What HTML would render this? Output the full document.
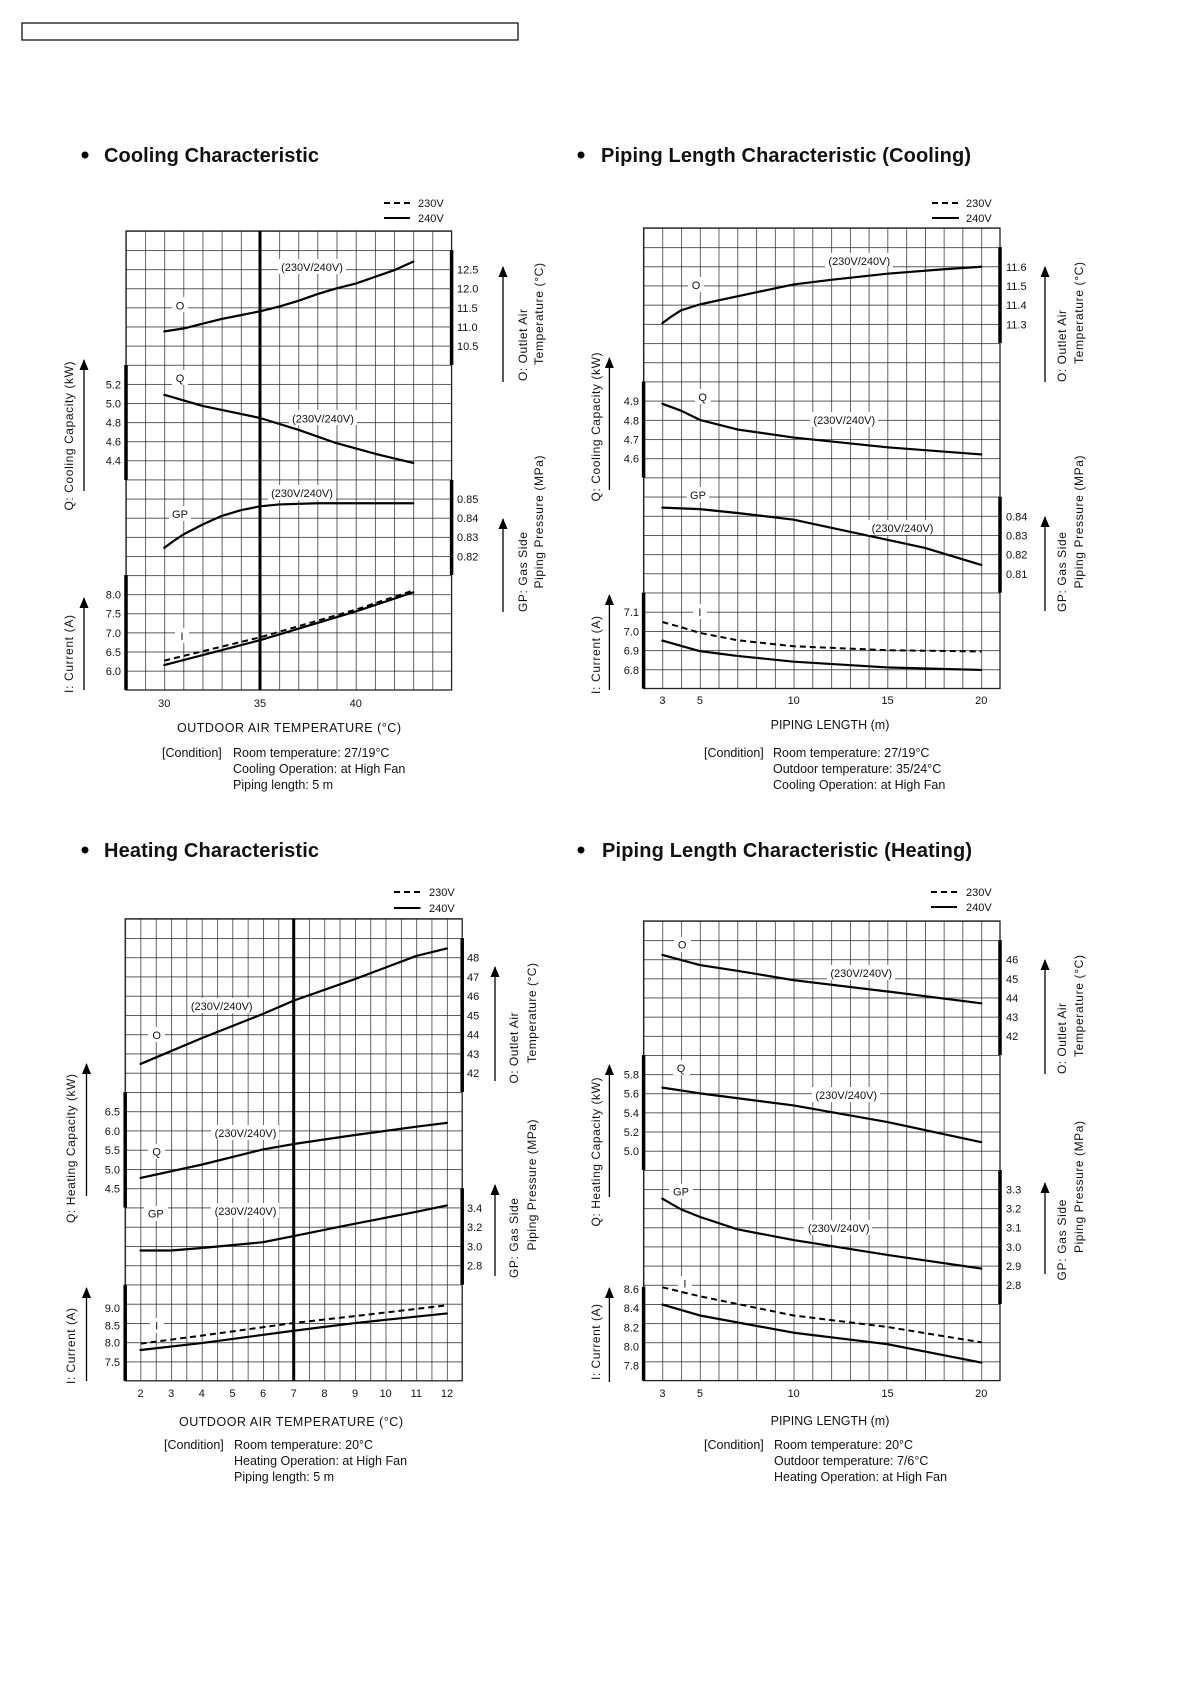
<!DOCTYPE html>
<html><head><meta charset="utf-8"><style>
html,body{margin:0;padding:0;background:#fff}
svg{display:block}
text{font-family:"Liberation Sans",Arial,sans-serif;fill:#111}
.t{font-size:20px;font-weight:bold}
.k{font-size:11px}
.a{font-size:12.5px}
.r{font-size:12px}
.grid{stroke:#222;stroke-width:1.3;fill:none}
.c{fill:none;stroke:#000;stroke-width:2.2;stroke-linejoin:round;stroke-linecap:round}
.d{fill:none;stroke:#000;stroke-width:2;stroke-dasharray:6 4}
.bar{stroke:#000;stroke-width:3.5}
.ar{stroke:#000;stroke-width:1.3}
</style></head><body>
<svg width="1190" height="1684" viewBox="0 0 1190 1684" xmlns="http://www.w3.org/2000/svg">
<defs>
<pattern id="pA" patternUnits="userSpaceOnUse" x="126" y="231" width="19.15" height="19.12"><path d="M0 0V19.12M0 0H19.15" stroke="#222" stroke-width="1.4" fill="none"/></pattern>
<pattern id="pB" patternUnits="userSpaceOnUse" x="643.6" y="228" width="18.76" height="19.19"><path d="M0 0V19.19M0 0H18.76" stroke="#222" stroke-width="1.4" fill="none"/></pattern>
<pattern id="pC" patternUnits="userSpaceOnUse" x="125.2" y="918.8" width="15.32" height="19.25"><path d="M0 0V19.25M0 0H15.32" stroke="#222" stroke-width="1.4" fill="none"/></pattern>
<pattern id="pD" patternUnits="userSpaceOnUse" x="643.6" y="921" width="18.76" height="19.15"><path d="M0 0V19.15M0 0H18.76" stroke="#222" stroke-width="1.4" fill="none"/></pattern>
<marker id="ah" markerWidth="11" markerHeight="9" refX="10" refY="4.5" orient="auto" markerUnits="userSpaceOnUse"><path d="M0 0 L11 4.5 L0 9Z" fill="#000"/></marker>
</defs>

<rect x="22" y="23" width="496" height="17" fill="none" stroke="#000" stroke-width="1.2"/>

<!-- ================= CHART A: Cooling ================= -->
<circle cx="85" cy="155" r="3.5" fill="#000"/>
<text class="t" x="104" y="162" textLength="215">Cooling Characteristic</text>
<line x1="384" y1="203" x2="410" y2="203" class="d" stroke-dasharray="5 3"/>
<line x1="384" y1="218" x2="410" y2="218" stroke="#000" stroke-width="2"/>
<text class="k" x="418" y="207">230V</text><text class="k" x="418" y="222">240V</text>
<rect x="126" y="231" width="325.6" height="459" fill="url(#pA)"/>
<rect x="126" y="231" width="325.6" height="459" class="grid"/>
<line x1="260" y1="231" x2="260" y2="690" stroke="#000" stroke-width="3"/>
<line class="bar" x1="451.6" y1="250" x2="451.6" y2="365"/>
<line class="bar" x1="126" y1="365" x2="126" y2="480"/>
<line class="bar" x1="451.6" y1="480" x2="451.6" y2="575"/>
<line class="bar" x1="126" y1="575" x2="126" y2="690"/>
<g class="k">
<text x="457" y="273.5">12.5</text><text x="457" y="292.7">12.0</text><text x="457" y="311.8">11.5</text><text x="457" y="331">11.0</text><text x="457" y="350">10.5</text>
<text x="457" y="503">0.85</text><text x="457" y="522">0.84</text><text x="457" y="541">0.83</text><text x="457" y="560.3">0.82</text>
</g>
<g class="k" text-anchor="end">
<text x="121" y="388.3">5.2</text><text x="121" y="407.4">5.0</text><text x="121" y="426.5">4.8</text><text x="121" y="445.6">4.6</text><text x="121" y="464.7">4.4</text>
<text x="121" y="598.6">8.0</text><text x="121" y="617.7">7.5</text><text x="121" y="636.8">7.0</text><text x="121" y="656">6.5</text><text x="121" y="675.1">6.0</text>
</g>
<g class="k" text-anchor="middle"><text x="164.3" y="707">30</text><text x="260" y="707">35</text><text x="355.8" y="707">40</text></g>
<g transform="translate(126 231) scale(19.15 19.12)">
<polyline class="c" vector-effect="non-scaling-stroke" points="2,5.25 3,5.1 4,4.85 5,4.6 6,4.4 7,4.2 8,3.95 9,3.65 10,3.3 11,3.0 12,2.75 13,2.4 14,2.05 15,1.6"/>
<polyline class="c" vector-effect="non-scaling-stroke" points="2,8.57 4,9.15 7,9.78 9,10.4 11,11.1 13,11.65 15,12.13"/>
<polyline class="c" vector-effect="non-scaling-stroke" points="2,16.57 2.5,16.2 3,15.87 4,15.35 5,14.9 6,14.6 7,14.4 8,14.3 10,14.24 15,14.24"/>
<polyline class="c" vector-effect="non-scaling-stroke" points="2,22.7 7,21.4 12,19.9 15,18.9"/>
</g>
<polyline class="d" points="164.3,660.6 260.1,637.3 355.8,609.6 413.3,590.5"/>
<g class="k" text-anchor="middle">
<rect x="278" y="259" width="68" height="15" fill="#fff"/><text x="312" y="271">(230V/240V)</text>
<rect x="172" y="297" width="16" height="15" fill="#fff"/><text x="180" y="309.5">O</text>
<rect x="172" y="370" width="16" height="15" fill="#fff"/><text x="180" y="382">Q</text>
<rect x="289" y="410" width="68" height="15" fill="#fff"/><text x="323" y="422.5">(230V/240V)</text>
<rect x="268" y="485" width="68" height="15" fill="#fff"/><text x="302" y="497">(230V/240V)</text>
<rect x="169" y="506" width="22" height="15" fill="#fff"/><text x="180" y="518">GP</text>
<rect x="175" y="628" width="14" height="15" fill="#fff"/><text x="182" y="640">I</text>
</g>
<text class="a" x="289" y="732" text-anchor="middle" textLength="224">OUTDOOR AIR TEMPERATURE (°C)</text>
<g class="a"><text x="162" y="757">[Condition]</text><text x="233" y="757">Room temperature: 27/19°C</text><text x="233" y="773">Cooling Operation: at High Fan</text><text x="233" y="789">Piping length: 5 m</text></g>
<line class="ar" x1="84" y1="491" x2="84" y2="360" marker-end="url(#ah)"/>
<line class="ar" x1="84" y1="690" x2="84" y2="598" marker-end="url(#ah)"/>
<line class="ar" x1="503" y1="382" x2="503" y2="267" marker-end="url(#ah)"/>
<line class="ar" x1="503" y1="612" x2="503" y2="519" marker-end="url(#ah)"/>
<g class="r" text-anchor="middle">
<text transform="translate(73 436) rotate(-90)" textLength="149">Q: Cooling Capacity (kW)</text>
<text transform="translate(73 654) rotate(-90)" textLength="78">I: Current (A)</text>
<text transform="translate(527 345) rotate(-90)" textLength="72">O: Outlet Air</text>
<text transform="translate(543 314) rotate(-90)" textLength="102">Temperature (°C)</text>
<text transform="translate(527 572) rotate(-90)" textLength="80">GP: Gas Side</text>
<text transform="translate(543 522) rotate(-90)" textLength="133">Piping Pressure (MPa)</text>
</g>

<!-- ================= CHART B: Piping Cooling ================= -->
<circle cx="581" cy="155" r="3.5" fill="#000"/>
<text class="t" x="601" y="162" textLength="370">Piping Length Characteristic (Cooling)</text>
<line x1="932" y1="203" x2="959" y2="203" class="d" stroke-dasharray="5 3"/>
<line x1="932" y1="218" x2="959" y2="218" stroke="#000" stroke-width="2"/>
<text class="k" x="966" y="207">230V</text><text class="k" x="966" y="222">240V</text>
<rect x="643.6" y="228" width="356.4" height="460.5" fill="url(#pB)"/>
<rect x="643.6" y="228" width="356.4" height="460.5" class="grid"/>
<line class="bar" x1="1000" y1="247" x2="1000" y2="343"/>
<line class="bar" x1="643.6" y1="381.5" x2="643.6" y2="477.5"/>
<line class="bar" x1="1000" y1="496.7" x2="1000" y2="592.6"/>
<line class="bar" x1="643.6" y1="592.6" x2="643.6" y2="688.5"/>
<g class="k">
<text x="1006" y="270.8">11.6</text><text x="1006" y="290">11.5</text><text x="1006" y="309.2">11.4</text><text x="1006" y="328.4">11.3</text>
<text x="1006" y="520.3">0.84</text><text x="1006" y="539.5">0.83</text><text x="1006" y="558.7">0.82</text><text x="1006" y="577.9">0.81</text>
</g>
<g class="k" text-anchor="end">
<text x="639" y="405">4.9</text><text x="639" y="424.3">4.8</text><text x="639" y="443.5">4.7</text><text x="639" y="462.7">4.6</text>
<text x="639" y="616.2">7.1</text><text x="639" y="635.4">7.0</text><text x="639" y="654.6">6.9</text><text x="639" y="673.8">6.8</text>
</g>
<g class="k" text-anchor="middle"><text x="662.4" y="704">3</text><text x="699.9" y="704">5</text><text x="793.7" y="704">10</text><text x="887.5" y="704">15</text><text x="981.3" y="704">20</text></g>
<g transform="translate(643.6 228) scale(18.76 19.19)">
<polyline class="c" vector-effect="non-scaling-stroke" points="1,4.96 1.5,4.6 2,4.29 3,3.98 5,3.56 8,2.94 10,2.7 13,2.38 16,2.15 18,2.02"/>
<polyline class="c" vector-effect="non-scaling-stroke" points="1,9.16 2,9.52 3,10.0 5,10.5 8,10.92 13,11.43 18,11.8"/>
<polyline class="c" vector-effect="non-scaling-stroke" points="1,14.57 3,14.65 5,14.85 8,15.2 11,15.83 13,16.25 15,16.67 18,17.56"/>
<polyline class="c" vector-effect="non-scaling-stroke" points="1,21.5 3,22.05 5,22.3 8,22.6 13,22.9 18,23.03"/>
</g>
<polyline class="d" points="662.4,622 681.1,627.2 699.9,632.9 737.4,640.2 793.7,646.3 887.5,650.2 981.3,651.5"/>
<g class="k" text-anchor="middle">
<rect x="825" y="253" width="68" height="15" fill="#fff"/><text x="859.3" y="265">(230V/240V)</text>
<rect x="688" y="277" width="16" height="15" fill="#fff"/><text x="696" y="289">O</text>
<rect x="695" y="389" width="16" height="15" fill="#fff"/><text x="702.7" y="401">Q</text>
<rect x="810" y="412" width="68" height="15" fill="#fff"/><text x="844.3" y="424">(230V/240V)</text>
<rect x="687" y="487" width="22" height="15" fill="#fff"/><text x="698" y="499">GP</text>
<rect x="868" y="520" width="68" height="15" fill="#fff"/><text x="902.5" y="532">(230V/240V)</text>
<rect x="693" y="604" width="14" height="15" fill="#fff"/><text x="699.9" y="616">I</text>
</g>
<text class="a" x="830" y="729" text-anchor="middle">PIPING LENGTH (m)</text>
<g class="a"><text x="704" y="757">[Condition]</text><text x="773" y="757">Room temperature: 27/19°C</text><text x="773" y="773">Outdoor temperature: 35/24°C</text><text x="773" y="789">Cooling Operation: at High Fan</text></g>
<line class="ar" x1="609.4" y1="490" x2="609.4" y2="358" marker-end="url(#ah)"/>
<line class="ar" x1="609.4" y1="690" x2="609.4" y2="595" marker-end="url(#ah)"/>
<line class="ar" x1="1045" y1="382" x2="1045" y2="267" marker-end="url(#ah)"/>
<line class="ar" x1="1045" y1="611" x2="1045" y2="517" marker-end="url(#ah)"/>
<g class="r" text-anchor="middle">
<text transform="translate(600 427) rotate(-90)" textLength="149">Q: Cooling Capacity (kW)</text>
<text transform="translate(600 655) rotate(-90)" textLength="78">I: Current (A)</text>
<text transform="translate(1066 346) rotate(-90)" textLength="72">O: Outlet Air</text>
<text transform="translate(1083 313) rotate(-90)" textLength="102">Temperature (°C)</text>
<text transform="translate(1066 572) rotate(-90)" textLength="80">GP: Gas Side</text>
<text transform="translate(1083 522) rotate(-90)" textLength="133">Piping Pressure (MPa)</text>
</g>

<!-- ================= CHART C: Heating ================= -->
<circle cx="85" cy="850" r="3.5" fill="#000"/>
<text class="t" x="104" y="857" textLength="215">Heating Characteristic</text>
<line x1="394" y1="892" x2="420.5" y2="892" class="d" stroke-dasharray="5 3"/>
<line x1="394" y1="908" x2="420.5" y2="908" stroke="#000" stroke-width="2"/>
<text class="k" x="429" y="896">230V</text><text class="k" x="429" y="912">240V</text>
<rect x="125.2" y="918.8" width="337" height="462" fill="url(#pC)"/>
<rect x="125.2" y="918.8" width="337" height="462" class="grid"/>
<line x1="293.7" y1="918.8" x2="293.7" y2="1380.8" stroke="#000" stroke-width="3"/>
<line class="bar" x1="462.2" y1="938" x2="462.2" y2="1092"/>
<line class="bar" x1="125.2" y1="1092" x2="125.2" y2="1207.6"/>
<line class="bar" x1="462.2" y1="1188.3" x2="462.2" y2="1284.6"/>
<line class="bar" x1="125.2" y1="1284.6" x2="125.2" y2="1380.7"/>
<g class="k">
<text x="467" y="961.6">48</text><text x="467" y="980.8">47</text><text x="467" y="1000.1">46</text><text x="467" y="1019.3">45</text><text x="467" y="1038.6">44</text><text x="467" y="1057.9">43</text><text x="467" y="1077.1">42</text>
<text x="467" y="1211.9">3.4</text><text x="467" y="1231.1">3.2</text><text x="467" y="1250.4">3.0</text><text x="467" y="1269.6">2.8</text>
</g>
<g class="k" text-anchor="end">
<text x="120" y="1115.6">6.5</text><text x="120" y="1134.8">6.0</text><text x="120" y="1154.1">5.5</text><text x="120" y="1173.3">5.0</text><text x="120" y="1192.6">4.5</text>
<text x="120" y="1311.9">9.0</text><text x="120" y="1329.3">8.5</text><text x="120" y="1346.6">8.0</text><text x="120" y="1365.9">7.5</text>
</g>
<g class="k" text-anchor="middle"><text x="140.5" y="1397">2</text><text x="171.2" y="1397">3</text><text x="201.8" y="1397">4</text><text x="232.4" y="1397">5</text><text x="263.1" y="1397">6</text><text x="293.7" y="1397">7</text><text x="324.4" y="1397">8</text><text x="355" y="1397">9</text><text x="385.7" y="1397">10</text><text x="416.3" y="1397">11</text><text x="447" y="1397">12</text></g>
<g transform="translate(125.2 918.8) scale(15.32 19.25)">
<polyline class="c" vector-effect="non-scaling-stroke" points="1,7.54 5,6.2 9,4.94 11,4.25 15,3.13 19,1.93 21,1.54"/>
<polyline class="c" vector-effect="non-scaling-stroke" points="1,13.46 5,12.77 9,11.98 11,11.7 15,11.23 19,10.8 21,10.6"/>
<polyline class="c" vector-effect="non-scaling-stroke" points="1,17.23 3,17.23 5,17.1 9,16.8 11,16.48 15,15.84 19,15.22 21,14.89"/>
<polyline class="c" vector-effect="non-scaling-stroke" points="1,22.4 5,22.04 11,21.4 15,21.0 21,20.5"/>
</g>
<polyline class="d" points="140.5,1343.6 201.8,1335.6 293.7,1323 355,1316.1 447,1305.3"/>
<g class="k" text-anchor="middle">
<rect x="188" y="998" width="68" height="15" fill="#fff"/><text x="221.7" y="1010">(230V/240V)</text>
<rect x="148" y="1027" width="17" height="15" fill="#fff"/><text x="156.6" y="1039">O</text>
<rect x="211" y="1125" width="68" height="15" fill="#fff"/><text x="245.5" y="1137">(230V/240V)</text>
<rect x="148" y="1144" width="17" height="15" fill="#fff"/><text x="156.6" y="1155.5">Q</text>
<rect x="211" y="1203" width="68" height="15" fill="#fff"/><text x="245.5" y="1215">(230V/240V)</text>
<rect x="144" y="1206" width="24" height="15" fill="#fff"/><text x="155.8" y="1217.5">GP</text>
<rect x="150" y="1318" width="14" height="15" fill="#fff"/><text x="156.6" y="1329.5">I</text>
</g>
<text class="a" x="291" y="1426" text-anchor="middle" textLength="224">OUTDOOR AIR TEMPERATURE (°C)</text>
<g class="a"><text x="164" y="1449">[Condition]</text><text x="234" y="1449">Room temperature: 20°C</text><text x="234" y="1465">Heating Operation: at High Fan</text><text x="234" y="1481">Piping length: 5 m</text></g>
<line class="ar" x1="86.5" y1="1196" x2="86.5" y2="1064" marker-end="url(#ah)"/>
<line class="ar" x1="86.5" y1="1381" x2="86.5" y2="1288" marker-end="url(#ah)"/>
<line class="ar" x1="495" y1="1081" x2="495" y2="967" marker-end="url(#ah)"/>
<line class="ar" x1="495" y1="1276" x2="495" y2="1185" marker-end="url(#ah)"/>
<g class="r" text-anchor="middle">
<text transform="translate(75 1148.5) rotate(-90)" textLength="149">Q: Heating Capacity (kW)</text>
<text transform="translate(75 1346) rotate(-90)" textLength="76">I: Current (A)</text>
<text transform="translate(518 1048) rotate(-90)" textLength="71">O: Outlet Air</text>
<text transform="translate(536 1013) rotate(-90)" textLength="100">Temperature (°C)</text>
<text transform="translate(518 1238) rotate(-90)" textLength="80">GP: Gas Side</text>
<text transform="translate(536 1185) rotate(-90)" textLength="131">Piping Pressure (MPa)</text>
</g>

<!-- ================= CHART D: Piping Heating ================= -->
<circle cx="581" cy="850" r="3.5" fill="#000"/>
<text class="t" x="602" y="857" textLength="370">Piping Length Characteristic (Heating)</text>
<line x1="931" y1="892" x2="957" y2="892" class="d" stroke-dasharray="5 3"/>
<line x1="931" y1="907" x2="957" y2="907" stroke="#000" stroke-width="2"/>
<text class="k" x="966" y="896">230V</text><text class="k" x="966" y="911">240V</text>
<rect x="643.6" y="921" width="356.4" height="459.6" fill="url(#pD)"/>
<rect x="643.6" y="921" width="356.4" height="459.6" class="grid"/>
<line class="bar" x1="1000" y1="940" x2="1000" y2="1055"/>
<line class="bar" x1="643.6" y1="1055" x2="643.6" y2="1170"/>
<line class="bar" x1="1000" y1="1170" x2="1000" y2="1304"/>
<line class="bar" x1="643.6" y1="1286.8" x2="643.6" y2="1380.6"/>
<g class="k">
<text x="1006" y="963.6">46</text><text x="1006" y="982.8">45</text><text x="1006" y="1001.9">44</text><text x="1006" y="1021.1">43</text><text x="1006" y="1040.2">42</text>
<text x="1006" y="1193.4">3.3</text><text x="1006" y="1212.6">3.2</text><text x="1006" y="1231.7">3.1</text><text x="1006" y="1250.9">3.0</text><text x="1006" y="1270">2.9</text><text x="1006" y="1289.2">2.8</text>
</g>
<g class="k" text-anchor="end">
<text x="639" y="1078.5">5.8</text><text x="639" y="1097.7">5.6</text><text x="639" y="1116.8">5.4</text><text x="639" y="1136">5.2</text><text x="639" y="1155.1">5.0</text>
<text x="639" y="1293">8.6</text><text x="639" y="1312.1">8.4</text><text x="639" y="1331.3">8.2</text><text x="639" y="1350.4">8.0</text><text x="639" y="1369.6">7.8</text>
</g>
<g class="k" text-anchor="middle"><text x="662.4" y="1397">3</text><text x="699.9" y="1397">5</text><text x="793.7" y="1397">10</text><text x="887.5" y="1397">15</text><text x="981.3" y="1397">20</text></g>
<g transform="translate(643.6 921) scale(18.76 19.15)">
<polyline class="c" vector-effect="non-scaling-stroke" points="1,1.77 3,2.3 5,2.6 8,3.09 13,3.68 18,4.3"/>
<polyline class="c" vector-effect="non-scaling-stroke" points="1,8.7 3,9.0 8,9.63 13,10.5 18,11.55"/>
<polyline class="c" vector-effect="non-scaling-stroke" points="1,14.5 2,15.06 3,15.45 5,16.1 8,16.66 13,17.44 18,18.15"/>
<polyline class="c" vector-effect="non-scaling-stroke" points="1,20.03 3,20.6 8,21.5 13,22.1 18,23.06"/>
</g>
<polyline class="d" points="662.4,1287.3 699.9,1296.3 793.7,1315.5 887.5,1327 981.3,1342.3"/>
<g class="k" text-anchor="middle">
<rect x="674" y="937" width="17" height="15" fill="#fff"/><text x="682.2" y="948.5">O</text>
<rect x="827" y="965" width="68" height="15" fill="#fff"/><text x="861.2" y="977">(230V/240V)</text>
<rect x="673" y="1060" width="17" height="15" fill="#fff"/><text x="681" y="1072">Q</text>
<rect x="812" y="1087" width="68" height="15" fill="#fff"/><text x="846.2" y="1099">(230V/240V)</text>
<rect x="669" y="1184" width="24" height="15" fill="#fff"/><text x="681" y="1195.5">GP</text>
<rect x="804" y="1220" width="68" height="15" fill="#fff"/><text x="838.7" y="1232">(230V/240V)</text>
<rect x="678" y="1276" width="14" height="15" fill="#fff"/><text x="684.9" y="1287.5">I</text>
</g>
<text class="a" x="830" y="1425" text-anchor="middle">PIPING LENGTH (m)</text>
<g class="a"><text x="704" y="1449">[Condition]</text><text x="774" y="1449">Room temperature: 20°C</text><text x="774" y="1465">Outdoor temperature: 7/6°C</text><text x="774" y="1481">Heating Operation: at High Fan</text></g>
<line class="ar" x1="609.4" y1="1197" x2="609.4" y2="1065" marker-end="url(#ah)"/>
<line class="ar" x1="609.4" y1="1382" x2="609.4" y2="1288" marker-end="url(#ah)"/>
<line class="ar" x1="1045" y1="1074" x2="1045" y2="960" marker-end="url(#ah)"/>
<line class="ar" x1="1045" y1="1274" x2="1045" y2="1183" marker-end="url(#ah)"/>
<g class="r" text-anchor="middle">
<text transform="translate(600 1152) rotate(-90)" textLength="149">Q: Heating Capacity (kW)</text>
<text transform="translate(600 1342) rotate(-90)" textLength="76">I: Current (A)</text>
<text transform="translate(1066 1038.5) rotate(-90)" textLength="71">O: Outlet Air</text>
<text transform="translate(1083 1006) rotate(-90)" textLength="102">Temperature (°C)</text>
<text transform="translate(1066 1240) rotate(-90)" textLength="81">GP: Gas Side</text>
<text transform="translate(1083 1187) rotate(-90)" textLength="132">Piping Pressure (MPa)</text>
</g>
</svg>
</body></html>
